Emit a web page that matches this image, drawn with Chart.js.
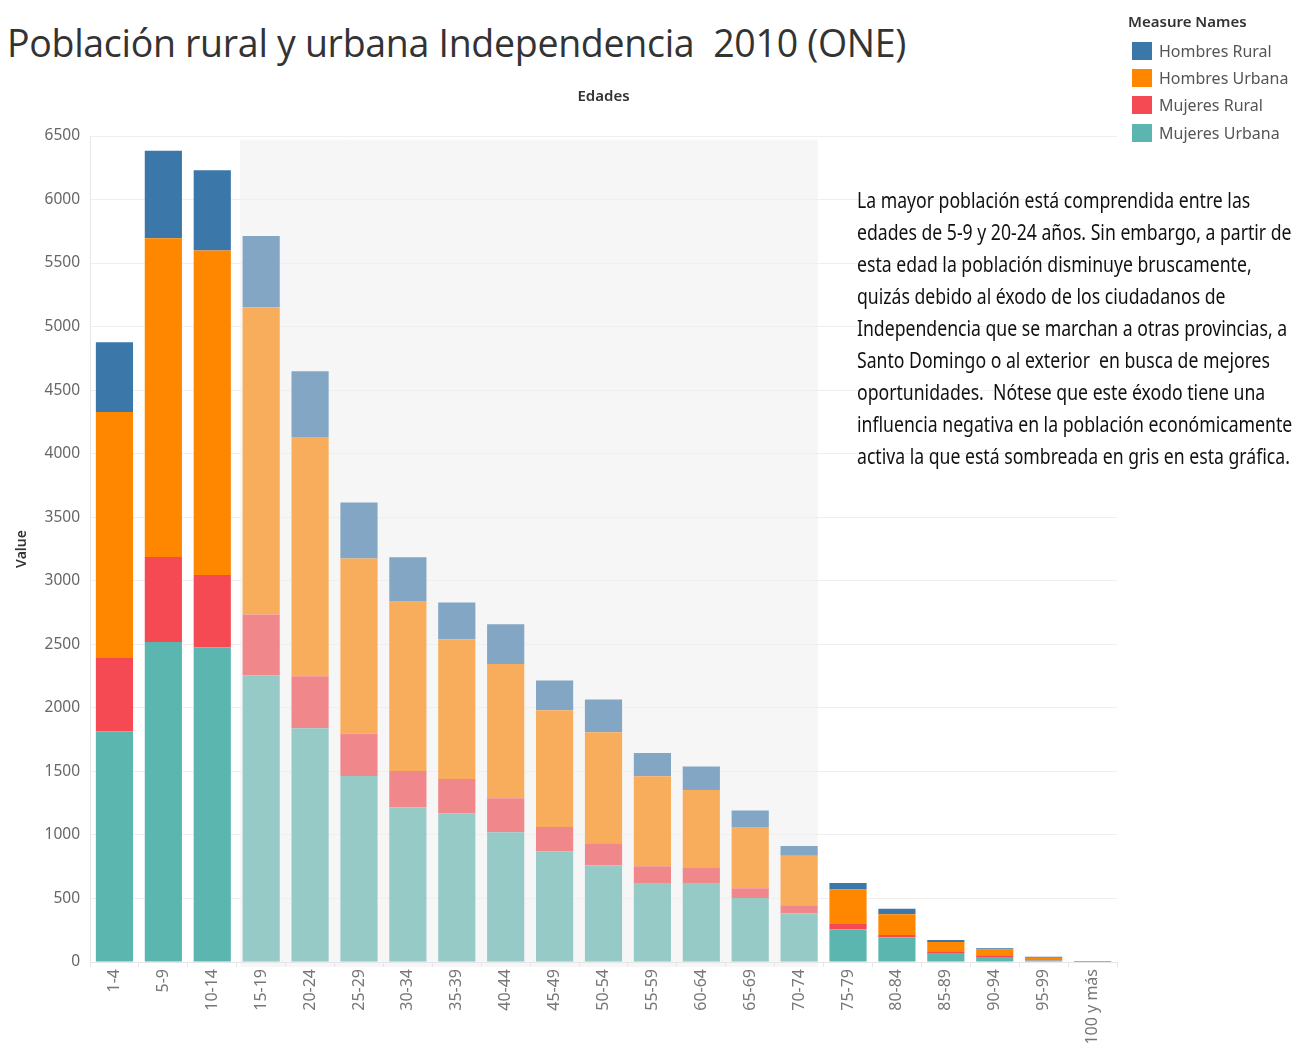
<!DOCTYPE html>
<html>
<head>
<meta charset="utf-8">
<script src="https://cdn.jsdelivr.net/npm/chart.js@4.4.1/dist/chart.umd.min.js"></script>
<style>
  body { margin: 0; background: #fff; width: 1303px; height: 1045px; overflow: hidden; position: relative; }
  #title { position: absolute; left: 7px; top: 17px; font: 400 37.5px "Open Sans", sans-serif; color: #333; white-space: nowrap; letter-spacing: -0.3px; }
  #wrap { position: absolute; left: 0; top: 0; width: 1130px; height: 1045px; }
  #legend { position: absolute; left: 1128px; top: 11px; font-family: "Noto Sans", sans-serif; }
  #legend .head { font-size: 15px; font-weight: 600; color: #333; margin-bottom: 6px; }
  #legend .item { height: 27.3px; display: flex; align-items: center; font-size: 16px; color: #555; }
  #legend .sw { width: 20px; height: 18px; margin: 0 7px 0 4px; }
  #note { position: absolute; left: 857px; top: 184px; font-family: "Noto Sans", sans-serif; font-size: 21.5px; line-height: 32px; color: #111; white-space: nowrap; transform: scaleX(0.82); transform-origin: 0 0; }
</style>
</head>
<body>
<div id="title">Población rural y urbana Independencia&nbsp; 2010 (ONE)</div>
<div id="wrap"><canvas id="c"></canvas></div>
<div id="legend"></div>
<div id="note">La mayor población está comprendida entre las<br>edades de 5-9 y 20-24 años. Sin embargo, a partir de<br>esta edad la población disminuye bruscamente,<br>quizás debido al éxodo de los ciudadanos de<br>Independencia que se marchan a otras provincias, a<br>Santo Domingo o al exterior&nbsp; en busca de mejores<br>oportunidades.&nbsp; Nótese que este éxodo tiene una<br>influencia negativa en la población económicamente<br>activa la que está sombreada en gris en esta gráfica.</div>
<script>
const edades = ['1-4','5-9','10-14','15-19','20-24','25-29','30-34','35-39','40-44','45-49',
  '50-54','55-59','60-64','65-69','70-74','75-79','80-84','85-89','90-94','95-99','100 y más'];

const mujeresUrbana = [1816, 2518, 2474, 2256, 1839, 1464, 1215, 1170, 1021, 871, 761, 622, 622, 504, 383, 257, 192, 71, 39, 11, 2];
const mujeresRural  = [577, 669, 572, 478, 410, 334, 288, 270, 267, 192, 173, 131, 118, 76, 63, 42, 21, 13, 14, 10, 1];
const hombresUrbana = [1935, 2509, 2553, 2419, 1883, 1377, 1338, 1100, 1057, 918, 874, 709, 614, 483, 391, 271, 162, 73, 45, 12, 2];
const hombresRural  = [549, 687, 632, 561, 517, 441, 344, 289, 313, 234, 257, 183, 184, 129, 76, 52, 45, 16, 10, 8, 3];

const yTicks = [0, 500, 1000, 1500, 2000, 2500, 3000, 3500, 4000, 4500, 5000, 5500, 6000, 6500];

// edades económicamente activas (sombreadas): 15-19 a 70-74
const activaDesde = 3, activaHasta = 14;

// bottom to top
const series = [
  { name: 'Mujeres Urbana', data: mujeresUrbana, color: '#5bb6af', faded: '#96cac7' },
  { name: 'Mujeres Rural',  data: mujeresRural,  color: '#f54a53', faded: '#f0878b' },
  { name: 'Hombres Urbana', data: hombresUrbana, color: '#ff8700', faded: '#f8ad5c' },
  { name: 'Hombres Rural',  data: hombresRural,  color: '#3b77a8', faded: '#82a6c3' }
];

const legend = document.getElementById('legend');
legend.innerHTML = '<div class="head">Measure Names</div>' +
  series.slice().reverse().map(s => '<div class="item"><span class="sw" style="background:' + s.color + '"></span>' + s.name + '</div>').join('');

const shade = {
  id: 'shade',
  beforeDraw(chart) {
    const x = chart.scales.x, y = chart.scales.y, ctx = chart.ctx;
    const half = x.getPixelForValue(1) - x.getPixelForValue(0);
    const left = x.getPixelForValue(activaDesde) - half * 0.43;
    const right = x.getPixelForValue(activaHasta) + half * 0.38;
    ctx.save();
    ctx.fillStyle = '#f6f6f6';
    ctx.fillRect(left, y.getPixelForValue(6470), right - left, chart.chartArea.bottom - y.getPixelForValue(6470) + 5);
    ctx.restore();
  }
};

const font = { family: '"Noto Sans", sans-serif' };

new Chart(document.getElementById('c'), {
  type: 'bar',
  data: {
    labels: edades,
    datasets: series.map(s => ({
      label: s.name,
      data: s.data,
      backgroundColor: edades.map((e, i) => (i >= activaDesde && i <= activaHasta) ? s.faded : s.color),
      borderWidth: 0,
      categoryPercentage: 1,
      barPercentage: 0.76
    }))
  },
  options: {
    responsive: true,
    maintainAspectRatio: false,
    animation: false,
    layout: { padding: { top: 80, right: 13, left: 0, bottom: 0 } },
    plugins: { legend: { display: false }, tooltip: { enabled: false } },
    scales: {
      x: {
        stacked: true,
        grid: { drawOnChartArea: false, drawTicks: true, tickLength: 5, color: '#e6e6e6' },
        border: { color: '#e6e6e6' },
        ticks: { minRotation: 90, maxRotation: 90, padding: 2, color: '#777', font: { ...font, size: 16 } },
        afterFit(s) { s.height = 83; }
      },
      top: {
        type: 'category',
        position: 'top',
        labels: edades,
        grid: { display: false },
        border: { display: false },
        ticks: { display: false },
        title: { display: true, text: 'Edades', color: '#333', padding: { top: 8, bottom: 0 }, font: { ...font, size: 15, weight: '600' } },
        afterFit(s) { s.height = 56; }
      },
      y: {
        stacked: true,
        min: 0,
        max: 6500,
        afterBuildTicks(s) { s.ticks = yTicks.map(v => ({ value: v })); },
        grid: { color: '#efefef', drawTicks: false },
        border: { color: '#e6e6e6' },
        ticks: { padding: 10, color: '#666', font: { ...font, size: 15.5 }, callback: v => String(v) },
        title: { display: true, text: 'Value', color: '#333', padding: { top: 14, bottom: 0 }, font: { ...font, size: 14, weight: '600' } },
        afterFit(s) { s.width = 90; }
      }
    }
  },
  plugins: [shade]
});
</script>
</body>
</html>
